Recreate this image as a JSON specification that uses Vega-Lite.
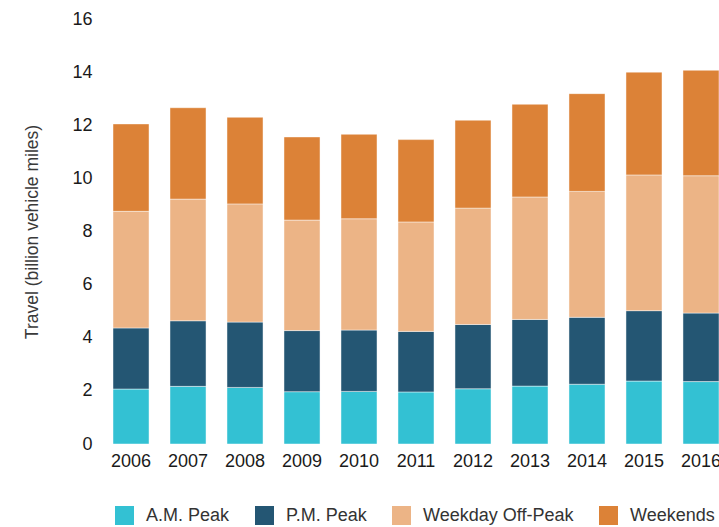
{
  "$schema": "https://vega.github.io/schema/vega-lite/v6.json",
  "autosize": "none",
  "width": 617,
  "height": 425,
  "padding": {"left": 102, "top": 19, "right": 0, "bottom": 83},
  "background": "white",
  "config": {
    "view": {"stroke": null},
    "font": "Liberation Sans"
  },
  "data": {
    "values": [
      {"year": "2006", "period": "A.M. Peak", "o": 1, "value": 2.07},
      {"year": "2006", "period": "P.M. Peak", "o": 2, "value": 2.30},
      {"year": "2006", "period": "Weekday Off-Peak", "o": 3, "value": 4.39},
      {"year": "2006", "period": "Weekends", "o": 4, "value": 3.29},
      {"year": "2007", "period": "A.M. Peak", "o": 1, "value": 2.17},
      {"year": "2007", "period": "P.M. Peak", "o": 2, "value": 2.47},
      {"year": "2007", "period": "Weekday Off-Peak", "o": 3, "value": 4.58},
      {"year": "2007", "period": "Weekends", "o": 4, "value": 3.44},
      {"year": "2008", "period": "A.M. Peak", "o": 1, "value": 2.13},
      {"year": "2008", "period": "P.M. Peak", "o": 2, "value": 2.46},
      {"year": "2008", "period": "Weekday Off-Peak", "o": 3, "value": 4.45},
      {"year": "2008", "period": "Weekends", "o": 4, "value": 3.26},
      {"year": "2009", "period": "A.M. Peak", "o": 1, "value": 1.97},
      {"year": "2009", "period": "P.M. Peak", "o": 2, "value": 2.30},
      {"year": "2009", "period": "Weekday Off-Peak", "o": 3, "value": 4.16},
      {"year": "2009", "period": "Weekends", "o": 4, "value": 3.13},
      {"year": "2010", "period": "A.M. Peak", "o": 1, "value": 1.98},
      {"year": "2010", "period": "P.M. Peak", "o": 2, "value": 2.31},
      {"year": "2010", "period": "Weekday Off-Peak", "o": 3, "value": 4.19},
      {"year": "2010", "period": "Weekends", "o": 4, "value": 3.18},
      {"year": "2011", "period": "A.M. Peak", "o": 1, "value": 1.96},
      {"year": "2011", "period": "P.M. Peak", "o": 2, "value": 2.28},
      {"year": "2011", "period": "Weekday Off-Peak", "o": 3, "value": 4.12},
      {"year": "2011", "period": "Weekends", "o": 4, "value": 3.10},
      {"year": "2012", "period": "A.M. Peak", "o": 1, "value": 2.08},
      {"year": "2012", "period": "P.M. Peak", "o": 2, "value": 2.42},
      {"year": "2012", "period": "Weekday Off-Peak", "o": 3, "value": 4.38},
      {"year": "2012", "period": "Weekends", "o": 4, "value": 3.31},
      {"year": "2013", "period": "A.M. Peak", "o": 1, "value": 2.18},
      {"year": "2013", "period": "P.M. Peak", "o": 2, "value": 2.51},
      {"year": "2013", "period": "Weekday Off-Peak", "o": 3, "value": 4.61},
      {"year": "2013", "period": "Weekends", "o": 4, "value": 3.49},
      {"year": "2014", "period": "A.M. Peak", "o": 1, "value": 2.25},
      {"year": "2014", "period": "P.M. Peak", "o": 2, "value": 2.52},
      {"year": "2014", "period": "Weekday Off-Peak", "o": 3, "value": 4.74},
      {"year": "2014", "period": "Weekends", "o": 4, "value": 3.68},
      {"year": "2015", "period": "A.M. Peak", "o": 1, "value": 2.37},
      {"year": "2015", "period": "P.M. Peak", "o": 2, "value": 2.65},
      {"year": "2015", "period": "Weekday Off-Peak", "o": 3, "value": 5.11},
      {"year": "2015", "period": "Weekends", "o": 4, "value": 3.87},
      {"year": "2016", "period": "A.M. Peak", "o": 1, "value": 2.35},
      {"year": "2016", "period": "P.M. Peak", "o": 2, "value": 2.58},
      {"year": "2016", "period": "Weekday Off-Peak", "o": 3, "value": 5.17},
      {"year": "2016", "period": "Weekends", "o": 4, "value": 3.97}
    ]
  },
  "mark": {"type": "bar", "stroke": "white", "strokeWidth": 1, "strokeOpacity": 0.45},
  "encoding": {
    "x": {
      "field": "year",
      "type": "ordinal",
      "scale": {"paddingInner": 0.368, "paddingOuter": 0.0965, "align": 1},
      "axis": {
        "title": null,
        "labelAngle": 0,
        "domain": false,
        "ticks": false,
        "labelFontSize": 18,
        "labelColor": "#1a1a1a",
        "labelPadding": 8
      }
    },
    "y": {
      "field": "value",
      "type": "quantitative",
      "stack": "zero",
      "scale": {"domain": [0, 16], "nice": false},
      "axis": {
        "title": "Travel (billion vehicle miles)",
        "values": [0, 2, 4, 6, 8, 10, 12, 14, 16],
        "grid": false,
        "domain": false,
        "ticks": false,
        "labelFontSize": 18,
        "labelColor": "#1a1a1a",
        "labelPadding": 10,
        "titleFontSize": 17.5,
        "titleFontWeight": "normal",
        "titleColor": "#3a3a3a",
        "titlePadding": 30
      }
    },
    "color": {
      "field": "period",
      "type": "nominal",
      "scale": {
        "domain": ["A.M. Peak", "P.M. Peak", "Weekday Off-Peak", "Weekends"],
        "range": ["#33c1d3", "#245673", "#ecb486", "#dc8237"]
      },
      "legend": {
        "title": null,
        "orient": "none",
        "direction": "horizontal",
        "legendX": 13,
        "legendY": 487,
        "padding": 0,
        "symbolType": "square",
        "symbolSize": 361,
        "symbolStrokeWidth": 0,
        "symbolOpacity": 1,
        "labelFontSize": 18,
        "labelColor": "#333333",
        "labelOffset": 12,
        "columnPadding": 25,
        "labelLimit": 300
      }
    },
    "order": {"field": "o", "type": "quantitative", "sort": "ascending"}
  }
}
